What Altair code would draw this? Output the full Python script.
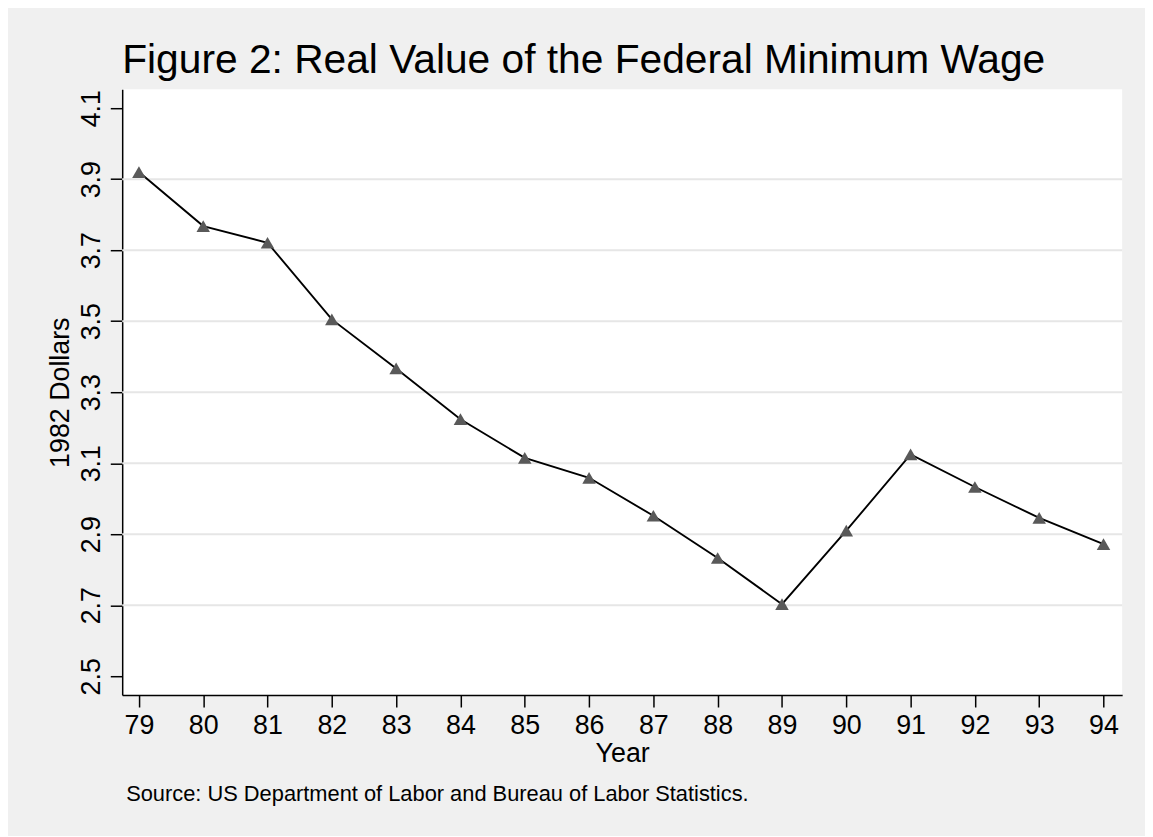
import altair as alt
import pandas as pd

years = [79, 80, 81, 82, 83, 84, 85, 86, 87, 88, 89, 90, 91, 92, 93, 94]
wage = [3.920, 3.768, 3.721, 3.505, 3.367, 3.224, 3.115, 3.059,
        2.952, 2.833, 2.703, 2.910, 3.125, 3.033, 2.946, 2.872]
y_ticks = [2.5, 2.7, 2.9, 3.1, 3.3, 3.5, 3.7, 3.9, 4.1]
grid_values = [2.7, 2.9, 3.1, 3.3, 3.5, 3.7, 3.9]
title_text = "Figure 2: Real Value of the Federal Minimum Wage"
source_text = "Source: US Department of Labor and Bureau of Labor Statistics."

df = pd.DataFrame({"year": years, "wage": wage})
grid_df = pd.DataFrame({"wage": grid_values})
src_df = pd.DataFrame({"t": [source_text]})

FONT = "Liberation Sans, Arial, Helvetica, sans-serif"
W, H = 1007, 610

xscale = alt.Scale(domain=[78.74, 94.29], nice=False, zero=False)
yscale = alt.Scale(domain=[2.447, 4.153], nice=False, zero=False)

x_axis = alt.Axis(values=years, format="d", title="Year", grid=False,
                  tickSize=12, labelPadding=6, titlePadding=2,
                  labelFontSize=27, titleFontSize=27, titleFontWeight="normal",
                  labelFont=FONT, titleFont=FONT, labelColor="black", titleColor="black",
                  domainColor="black", tickColor="black", domainWidth=1.5, tickWidth=1.5,
                  labelFlush=False, labelOverlap=False)
y_axis = alt.Axis(values=y_ticks, format=".1f", title="1982 Dollars", grid=False,
                  tickSize=12, labelPadding=11, titlePadding=3,
                  labelAngle=270, labelAlign="center", labelBaseline="alphabetic",
                  labelFontSize=27, titleFontSize=27, titleFontWeight="normal",
                  labelFont=FONT, titleFont=FONT, labelColor="black", titleColor="black",
                  domainColor="black", tickColor="black", domainWidth=1.5, tickWidth=1.5,
                  labelFlush=False, labelOverlap=False)

grid = alt.Chart(grid_df).mark_rule(color="#E6E6E6", strokeWidth=2).encode(
    y=alt.Y("wage:Q", scale=yscale, axis=y_axis)
)

line = alt.Chart(df).mark_line(color="black", strokeWidth=1.9).encode(
    x=alt.X("year:Q", scale=xscale, axis=x_axis),
    y=alt.Y("wage:Q", scale=yscale, axis=y_axis),
)

points = alt.Chart(df).mark_point(shape="triangle-up", filled=True, color="#595959",
                                  size=185, opacity=1).encode(
    x=alt.X("year:Q", scale=xscale, axis=x_axis),
    y=alt.Y("wage:Q", scale=yscale, axis=y_axis),
)

source = alt.Chart(src_df).mark_text(align="left", baseline="alphabetic", fontSize=22,
                                     font=FONT, color="black").encode(
    x=alt.value(4), y=alt.value(H + 107), text="t:N"
)

chart = alt.layer(grid, line, points, source).properties(
    width=W, height=H,
    autosize=alt.AutoSizeParams(type="none"),
    padding={"left": 115, "top": 79, "right": 23, "bottom": 139},
    background="#F0F0F0",
    title=alt.TitleParams(title_text, anchor="start", frame="group", fontSize=41,
                          fontWeight="normal", font=FONT, color="black",
                          baseline="alphabetic", offset=-25),
).configure_view(fill="white", stroke="transparent", strokeWidth=0)

chart.save("out.html", embed_options={"renderer": "svg", "actions": False})
